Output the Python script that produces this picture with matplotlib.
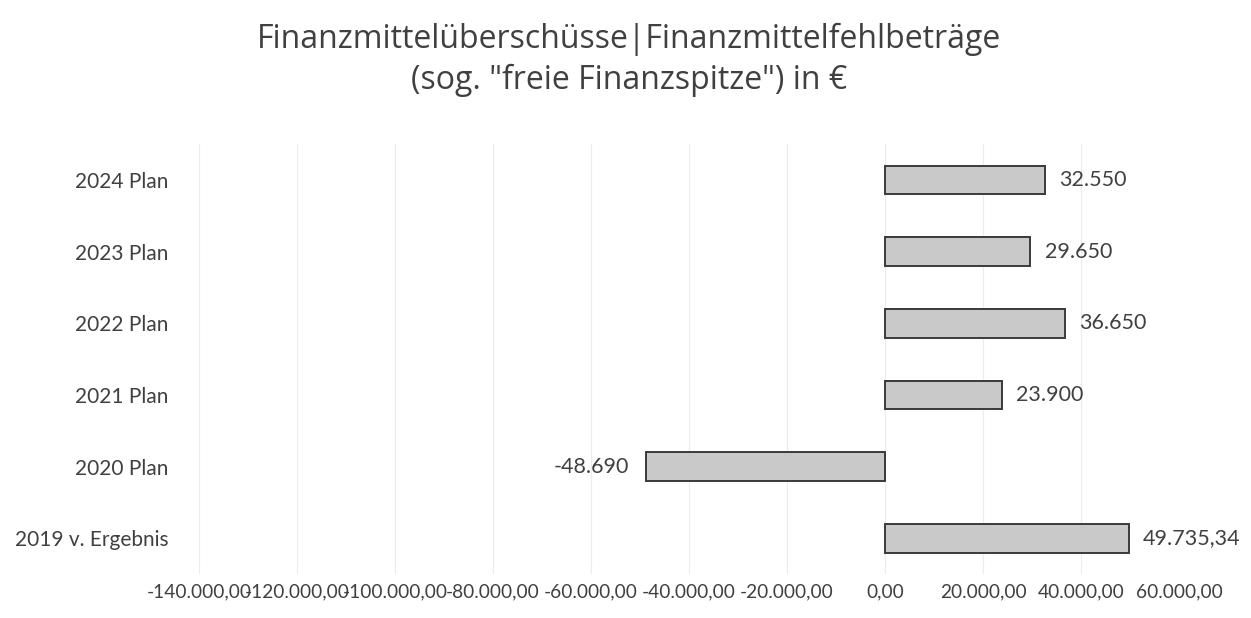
import matplotlib
matplotlib.use("Agg")
import matplotlib.pyplot as plt
from matplotlib.ticker import FuncFormatter, MultipleLocator

categories = ["2019 v. Ergebnis", "2020 Plan", "2021 Plan", "2022 Plan", "2023 Plan", "2024 Plan"]
values = [49735.34, -48690, 23900, 36650, 29650, 32550]
value_labels = ["49.735,34", "-48.690", "23.900", "36.650", "29.650", "32.550"]
title = 'Finanzmittelüberschüsse|Finanzmittelfehlbeträge\n(sog. "freie Finanzspitze") in €'

plt.rcParams['font.family'] = ['Lato', 'DejaVu Sans']
txt = '#404040'

fig = plt.figure(figsize=(12.51, 6.18), dpi=100)
ax = fig.add_axes([0.159, 0.071, 0.9425 - 0.159, 0.767 - 0.071])

y = list(range(len(categories)))
ax.barh(y, values, height=0.4, color='#c9c9c9', edgecolor='#3a3a3a', linewidth=1.4, zorder=3)

ax.set_xlim(-140000, 60000)
ax.set_ylim(-0.5, len(categories) - 0.5)
ax.xaxis.set_major_locator(MultipleLocator(20000))

def fmt(v, pos):
    s = f"{abs(v):,.2f}".replace(",", "X").replace(".", ",").replace("X", ".")
    return ("-" if v < 0 else "") + s

ax.xaxis.set_major_formatter(FuncFormatter(fmt))
ax.set_yticks(y)
ax.set_yticklabels(categories)
ax.tick_params(axis='both', length=0, colors=txt)
ax.tick_params(axis='y', pad=22, labelsize=15)
ax.tick_params(axis='x', pad=7, labelsize=13.8)
ax.grid(axis='x', color='#ececec', linewidth=0.8, zorder=0)
for s in ax.spines.values():
    s.set_visible(False)

for yi, v, lab in zip(y, values, value_labels):
    if v >= 0:
        ax.text(v + 2900, yi, lab, va='center', ha='left', fontsize=15.5, color=txt)
    else:
        ax.text(v - 3500, yi, lab, va='center', ha='right', fontsize=15.5, color=txt)

fig.text(0.503, 0.903, title, ha='center', va='center', fontsize=23, color=txt,
         linespacing=1.3, family=['Open Sans', 'DejaVu Sans'])

fig.savefig("out.png", dpi=100, facecolor='white')
